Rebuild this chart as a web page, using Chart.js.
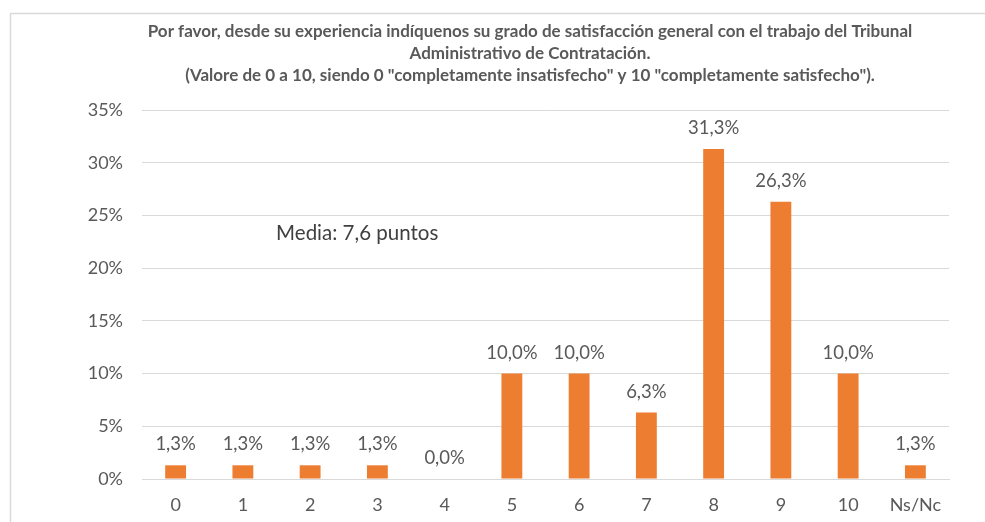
<!DOCTYPE html>
<html>
<head>
<meta charset="utf-8">
<script src="https://cdn.jsdelivr.net/npm/chart.js@4.4.1/dist/chart.umd.min.js"></script>
<style>
html,body{margin:0;padding:0;background:#fff;}
#wrap{width:985px;height:522px;position:relative;}
</style>
</head>
<body>
<div id="wrap"><canvas id="c" width="985" height="522"></canvas></div>
<script>
const categories = ["0","1","2","3","4","5","6","7","8","9","10","Ns/Nc"];
const values = [1.3,1.3,1.3,1.3,0.0,10.0,10.0,6.3,31.3,26.3,10.0,1.3];
const yTicks = [0,5,10,15,20,25,30,35];
const titleLines = [
  "Por favor, desde su experiencia indíquenos su grado de satisfacción general con el trabajo del Tribunal",
  "Administrativo de Contratación.",
  "(Valore de 0 a 10, siendo 0 \"completamente insatisfecho\" y 10 \"completamente satisfecho\")."
];
const mediaText = "Media: 7,6 puntos";

const FONT = "Lato";
const fmt = v => v.toFixed(1).replace('.', ',') + '%';

const decor = {
  id: 'decor',
  beforeDraw(chart) {
    const ctx = chart.ctx;
    ctx.save();
    ctx.fillStyle = '#fff';
    ctx.fillRect(0, 0, chart.width, chart.height);
    ctx.strokeStyle = '#d9d9d9';
    ctx.lineWidth = 1.5;
    ctx.strokeRect(10.5, 13.5, 1200, 800);
    ctx.restore();
  },
  afterDraw(chart) {
    const ctx = chart.ctx;
    const xs = chart.scales.x, ys = chart.scales.y;
    ctx.save();
    ctx.fillStyle = '#595959';
    ctx.textAlign = 'center';
    ctx.textBaseline = 'middle';
    ctx.font = 'bold 100px ' + FONT;
    const w = ctx.measureText(titleLines[0]).width;
    const size = 100 * 765 / w;
    ctx.font = 'bold ' + size.toFixed(2) + 'px ' + FONT;
    const tys = [32, 54, 76];
    titleLines.forEach((t, i) => ctx.fillText(t, 530, tys[i]));
    ctx.font = '18.5px ' + FONT;
    ctx.fillStyle = '#595959';
    const meta = chart.getDatasetMeta(0);
    meta.data.forEach((bar, i) => {
      ctx.fillText(fmt(values[i]), bar.x, bar.y - 21);
    });
    ctx.fillStyle = '#404040';
    ctx.font = '20.5px ' + FONT;
    ctx.fillText(mediaText, xs.getPixelForValue(2.7), ys.getPixelForValue(23.3));
    ctx.restore();
  }
};

new Chart(document.getElementById('c'), {
  type: 'bar',
  data: {
    labels: categories,
    datasets: [{
      data: values,
      backgroundColor: '#ED7D31',
      borderWidth: 0,
      barPercentage: 0.31,
      categoryPercentage: 1.0
    }]
  },
  options: {
    responsive: false,
    animation: false,
    events: [],
    layout: { padding: { left: 0, right: 36, top: 110, bottom: 0 } },
    plugins: { legend: { display: false }, title: { display: false }, tooltip: { enabled: false } },
    scales: {
      x: {
        grid: { display: false, drawTicks: false },
        border: { display: true, color: '#d9d9d9', width: 1 },
        ticks: { color: '#595959', font: { family: FONT, size: 18 }, padding: 15 },
        afterFit(s) { s.height = 43; }
      },
      y: {
        min: 0, max: 35,
        afterBuildTicks(s) { s.ticks = yTicks.map(v => ({ value: v })); },
        grid: { color: '#d9d9d9', drawTicks: false, lineWidth: 1 },
        border: { display: false },
        ticks: { color: '#595959', font: { family: FONT, size: 18 }, padding: 19, callback: v => v + '%' },
        afterFit(s) { s.width = 142; }
      }
    }
  },
  plugins: [decor]
});
</script>
</body>
</html>
